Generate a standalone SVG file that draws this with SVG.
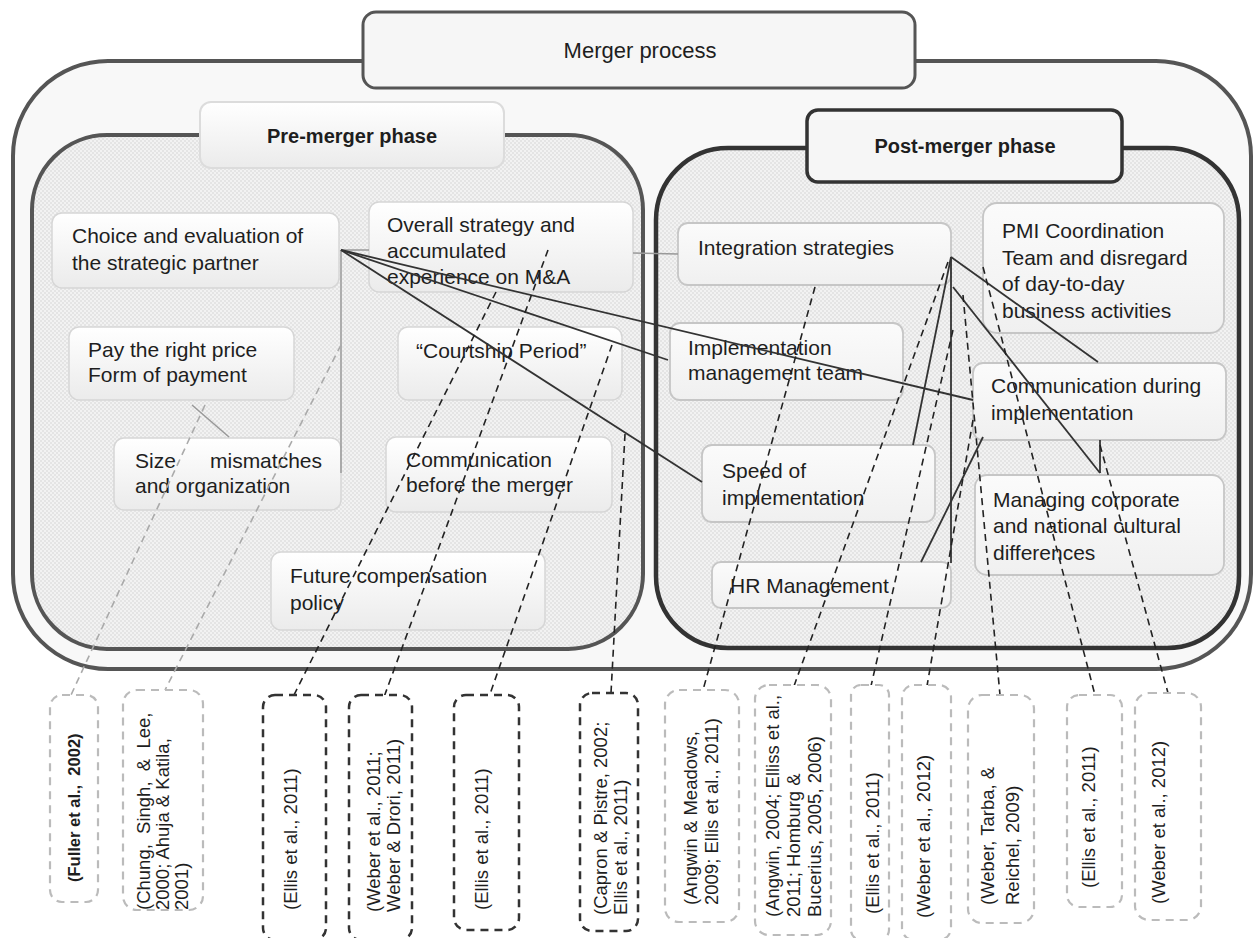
<svg xmlns="http://www.w3.org/2000/svg" width="1259" height="938" viewBox="0 0 1259 938">
<defs>
<pattern id="dots" width="4" height="4" patternUnits="userSpaceOnUse">
<rect width="4" height="4" fill="#f2f2f2"/>
<circle cx="1" cy="1" r="0.8" fill="#d2d2d2"/>
<circle cx="3" cy="3" r="0.8" fill="#d2d2d2"/>
</pattern>
<linearGradient id="g1" x1="0" y1="0" x2="0" y2="1">
<stop offset="0" stop-color="#ffffff"/>
<stop offset="1" stop-color="#ebebeb"/>
</linearGradient>
<linearGradient id="g2" x1="0" y1="0" x2="0" y2="1">
<stop offset="0" stop-color="#fbfbfb"/>
<stop offset="1" stop-color="#f0f0f0"/>
</linearGradient>
</defs>
<style>
text{font-family:"Liberation Sans",Arial,sans-serif;fill:#1e1e1e}
.t{font-size:21px}
.h{font-size:20px;font-weight:bold}
.cb{font-size:18.5px}
.pre{fill:url(#g1);stroke:#d6d6d6;stroke-width:1.5}
.post{fill:url(#g2);stroke:#c6c6c6;stroke-width:1.8}
.ln{fill:none;stroke:#333;stroke-width:1.8}
.lg{fill:none;stroke:#999;stroke-width:1.5}
.dd{fill:none;stroke:#222;stroke-width:1.6;stroke-dasharray:7 5}
.dl{fill:none;stroke:#aaa;stroke-width:1.6;stroke-dasharray:7 5}
.bd{fill:#fff;stroke:#333;stroke-width:2.5;stroke-dasharray:8 6}
.bl{fill:#fff;stroke:#bbb;stroke-width:2.2;stroke-dasharray:8 6}
</style>
<rect width="1259" height="938" fill="#ffffff"/>

<g id="merger-process">
<rect x="13" y="61" width="1238" height="608" rx="95" fill="#f8f8f8" stroke="#555" stroke-width="4"/>
</g>
<g id="pre-merger-frame">
<rect x="32" y="135" width="611" height="514" rx="75" fill="url(#dots)" stroke="#555" stroke-width="4"/>
</g>
<g id="post-merger-frame">
<rect x="656" y="148" width="583" height="500" rx="72" fill="url(#dots)" stroke="#333" stroke-width="4.5"/>
</g>

<g id="merger-process-title">
<rect x="363" y="12" width="552" height="76" rx="13" fill="#f6f6f6" stroke="#555" stroke-width="3"/>
<text class="t" x="640" y="58" text-anchor="middle" style="font-size:22px">Merger process</text>
</g>
<g id="pre-merger-title">
<rect x="200" y="102" width="304" height="66" rx="11" fill="url(#g1)" stroke="#dcdcdc" stroke-width="2"/>
<text class="h" x="352" y="143" text-anchor="middle">Pre-merger phase</text>
</g>
<g id="post-merger-title">
<rect x="807" y="110" width="315" height="72" rx="11" fill="#f6f6f6" stroke="#333" stroke-width="3.5"/>
<text class="h" x="965" y="153" text-anchor="middle">Post-merger phase</text>
</g>

<g id="n-choice">
<rect class="pre" x="52" y="213" width="287" height="75" rx="10"/>
<text class="t" x="72" y="243">Choice and evaluation of</text>
<text class="t" x="72" y="270">the strategic partner</text>
</g>
<g id="n-overall">
<rect class="pre" x="369" y="202" width="264" height="90" rx="10"/>
<text class="t" x="387" y="232">Overall strategy and</text>
<text class="t" x="387" y="258">accumulated</text>
<text class="t" x="387" y="284">experience on M&amp;A</text>
</g>
<g id="n-price">
<rect class="pre" x="69" y="327" width="225" height="73" rx="10"/>
<text class="t" x="88" y="357">Pay the right price</text>
<text class="t" x="88" y="382">Form of payment</text>
</g>
<g id="n-size">
<rect class="pre" x="114" y="438" width="227" height="72" rx="10"/>
<text class="t" x="135" y="468">Size</text>
<text class="t" x="322" y="468" text-anchor="end">mismatches</text>
<text class="t" x="135" y="493">and organization</text>
</g>
<g id="n-courtship">
<rect class="pre" x="398" y="327" width="224" height="73" rx="10"/>
<text class="t" x="416" y="358">“Courtship Period”</text>
</g>
<g id="n-comm-before">
<rect class="pre" x="386" y="437" width="226" height="75" rx="10"/>
<text class="t" x="406" y="467">Communication</text>
<text class="t" x="406" y="492">before the merger</text>
</g>
<g id="n-future">
<rect class="pre" x="271" y="552" width="274" height="78" rx="10"/>
<text class="t" x="290" y="583">Future compensation</text>
<text class="t" x="290" y="610">policy</text>
</g>

<g id="n-integration">
<rect class="post" x="678" y="223" width="273" height="62" rx="10"/>
<text class="t" x="698" y="255">Integration strategies</text>
</g>
<g id="n-pmi">
<rect class="post" x="983" y="203" width="241" height="130" rx="14"/>
<text class="t" x="1002" y="238">PMI Coordination</text>
<text class="t" x="1002" y="265">Team and disregard</text>
<text class="t" x="1002" y="291">of day-to-day</text>
<text class="t" x="1002" y="318">business activities</text>
</g>
<g id="n-impl-team">
<rect class="post" x="670" y="323" width="233" height="77" rx="10"/>
<text class="t" x="688" y="355">Implementation</text>
<text class="t" x="688" y="380">management team</text>
</g>
<g id="n-comm-during">
<rect class="post" x="973" y="363" width="253" height="77" rx="10"/>
<text class="t" x="991" y="393">Communication during</text>
<text class="t" x="991" y="420">implementation</text>
</g>
<g id="n-speed">
<rect class="post" x="702" y="445" width="233" height="77" rx="10"/>
<text class="t" x="722" y="478">Speed of</text>
<text class="t" x="722" y="505">implementation</text>
</g>
<g id="n-managing">
<rect class="post" x="975" y="475" width="249" height="100" rx="12"/>
<text class="t" x="993" y="507">Managing corporate</text>
<text class="t" x="993" y="533">and national cultural</text>
<text class="t" x="993" y="560">differences</text>
</g>
<g id="n-hr">
<rect class="post" x="712" y="562" width="239" height="46" rx="9"/>
<text class="t" x="730" y="593">HR Management</text>
</g>

<g id="connectors">
<path class="lg" d="M341,250 L369,250 M633,253 L678,254"/>
<path class="lg" d="M341,250 L341,473"/>
<path class="lg" d="M192,405 L229,437"/>
<path class="ln" d="M341,250 L668,360"/>
<path class="ln" d="M341,250 L973,400"/>
<path class="ln" d="M341,250 L702,482"/>
<path class="ln" d="M951,257 L1098,362"/>
<path class="ln" d="M951,257 L951,563"/>
<path class="ln" d="M951,257 L913,445"/>
<path class="ln" d="M953,287 L1100,473"/>
<path class="ln" d="M1100,440 L1100,473"/>
<path class="ln" d="M921,562 L983,437"/>
<path class="dl" d="M205,405 L71,695"/>
<path class="dl" d="M341,345 L165,690"/>
<path class="dd" d="M496,292 L293,697"/>
<path class="dd" d="M548,250 L384,697"/>
<path class="dd" d="M612,345 L489,697"/>
<path class="dd" d="M625,434 L611,693"/>
<path class="dd" d="M815,287 L703,690"/>
<path class="dd" d="M948,262 L794,686"/>
<path class="dd" d="M953,330 L871,686"/>
<path class="dd" d="M973,420 L927,686"/>
<path class="dd" d="M963,295 L1000,695"/>
<path class="dd" d="M983,267 L1095,695"/>
<path class="dd" d="M1100,445 L1168,693"/>
</g>

<g id="c-fuller">
<rect class="bl" x="50" y="695" width="48" height="207" rx="12"/>
<text class="cb" transform="translate(80,882) rotate(-90)" xml:space="preserve" style="font-weight:bold;font-size:16.5px">(Fuller et al.,  2002)</text>
</g>
<g id="c-chung">
<rect class="bl" x="123" y="690" width="80" height="220" rx="14"/>
<text class="cb" transform="translate(150,910) rotate(-90)" xml:space="preserve"><tspan x="0" y="0">(Chung,  Singh,  &amp;  Lee,</tspan><tspan x="0" y="19">2000; Ahuja &amp; Katila,</tspan><tspan x="0" y="38">2001)</tspan></text>
</g>
<g id="c-ellis1">
<rect class="bd" x="263" y="695" width="63" height="245" rx="12"/>
<text class="cb" transform="translate(297,910) rotate(-90)">(Ellis et al., 2011)</text>
</g>
<g id="c-weber1">
<rect class="bd" x="349" y="695" width="63" height="245" rx="12"/>
<text class="cb" transform="translate(380,912) rotate(-90)"><tspan x="0" y="0">(Weber et al., 2011;</tspan><tspan x="0" y="20">Weber &amp; Drori, 2011)</tspan></text>
</g>
<g id="c-ellis2">
<rect class="bd" x="454" y="695" width="65" height="235" rx="12"/>
<text class="cb" transform="translate(488,910) rotate(-90)">(Ellis et al., 2011)</text>
</g>
<g id="c-capron">
<rect class="bd" x="580" y="693" width="58" height="238" rx="12"/>
<text class="cb" transform="translate(607,915) rotate(-90)"><tspan x="0" y="0">(Capron &amp; Pistre, 2002;</tspan><tspan x="0" y="20">Ellis et al., 2011)</tspan></text>
</g>
<g id="c-angwin-meadows">
<rect class="bl" x="665" y="690" width="74" height="232" rx="14"/>
<text class="cb" transform="translate(697,905) rotate(-90)"><tspan x="0" y="0">(Angwin &amp; Meadows,</tspan><tspan x="0" y="21">2009; Ellis et al., 2011)</tspan></text>
</g>
<g id="c-angwin2004">
<rect class="bl" x="755" y="685" width="76" height="250" rx="14"/>
<text class="cb" transform="translate(779,917) rotate(-90)"><tspan x="0" y="0">(Angwin, 2004; Elliss et al.,</tspan><tspan x="0" y="21">2011; Homburg &amp;</tspan><tspan x="0" y="42">Bucerius, 2005, 2006)</tspan></text>
</g>
<g id="c-ellis3">
<rect class="bl" x="851" y="685" width="38" height="255" rx="10"/>
<text class="cb" transform="translate(879,914) rotate(-90)">(Ellis et al., 2011)</text>
</g>
<g id="c-weber2012a">
<rect class="bl" x="902" y="685" width="49" height="255" rx="12"/>
<text class="cb" transform="translate(930,918) rotate(-90)">(Weber et al., 2012)</text>
</g>
<g id="c-weber-tarba">
<rect class="bl" x="968" y="695" width="66" height="228" rx="14"/>
<text class="cb" transform="translate(994,905) rotate(-90)"><tspan x="0" y="0">(Weber, Tarba, &amp;</tspan><tspan x="0" y="25">Reichel, 2009)</tspan></text>
</g>
<g id="c-ellis4">
<rect class="bl" x="1067" y="695" width="55" height="212" rx="12"/>
<text class="cb" transform="translate(1095,888) rotate(-90)">(Ellis et al., 2011)</text>
</g>
<g id="c-weber2012b">
<rect class="bl" x="1135" y="693" width="66" height="227" rx="14"/>
<text class="cb" transform="translate(1165,904) rotate(-90)">(Weber et al., 2012)</text>
</g>
</svg>
